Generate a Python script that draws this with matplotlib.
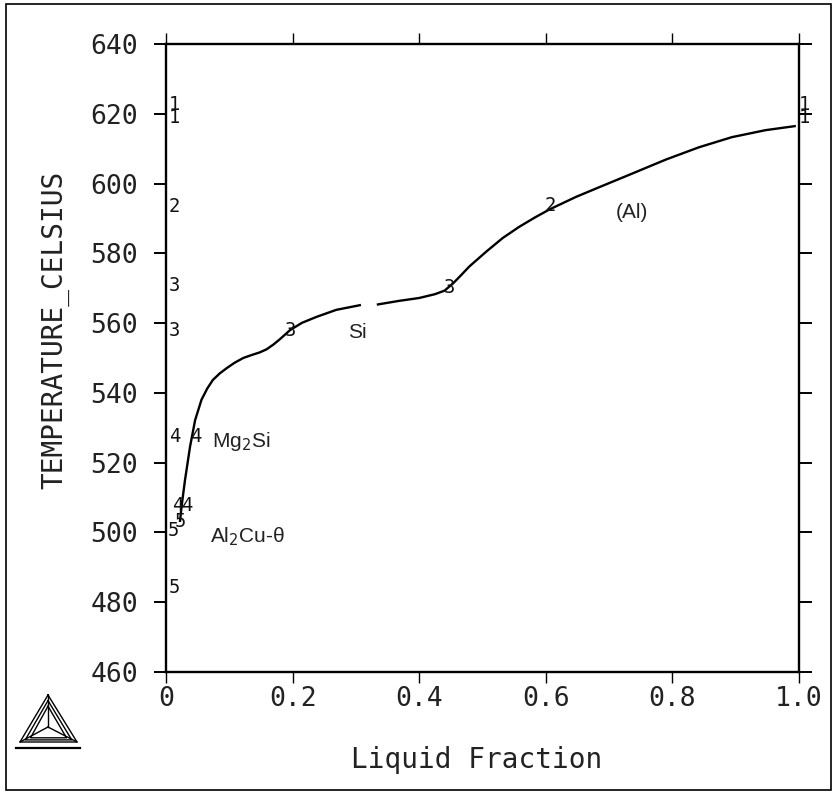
import matplotlib
matplotlib.use("Agg")
import matplotlib.pyplot as plt
from matplotlib.lines import Line2D
from matplotlib.patches import Rectangle

# ---- data ----
curve1_x = [0.022, 0.025, 0.030, 0.038, 0.046, 0.056, 0.065, 0.074, 0.085, 0.096,
            0.108, 0.122, 0.136, 0.148, 0.159, 0.170, 0.180, 0.196, 0.215, 0.238,
            0.269, 0.308]
curve1_y = [503.0, 508.0, 515.0, 524.6, 532.2, 538.0, 541.2, 543.7, 545.6, 547.1,
            548.6, 550.0, 550.9, 551.6, 552.5, 553.9, 555.4, 558.0, 560.1, 561.8,
            563.8, 565.2]
curve2_x = [0.333, 0.369, 0.400, 0.425, 0.440, 0.453, 0.466, 0.479, 0.506, 0.532,
            0.558, 0.583, 0.606, 0.648, 0.685, 0.737, 0.790, 0.842, 0.894, 0.947,
            0.995]
curve2_y = [565.3, 566.4, 567.2, 568.3, 569.3, 571.3, 573.7, 576.2, 580.5, 584.4,
            587.6, 590.3, 592.6, 596.2, 599.0, 602.9, 606.9, 610.4, 613.3, 615.3,
            616.5]

marker_text = ["1", "1", "1", "1", "2", "2", "3", "3", "3", "3",
               "4", "4", "4", "4", "5", "5", "5"]
marker_x = [0.013, 0.013, 1.009, 1.009, 0.013, 0.607, 0.013, 0.013, 0.196, 0.448,
            0.013, 0.047, 0.018, 0.033, 0.012, 0.022, 0.013]
marker_y = [622.6, 619.0, 622.6, 619.0, 593.3, 593.6, 570.9, 558.0, 558.0, 570.3,
            527.4, 527.4, 507.6, 507.6, 500.6, 503.0, 484.1]

phase_text = ["(Al)", "Si", "Mg$_2$Si", "Al$_2$Cu-θ"]
phase_x = [0.736, 0.302, 0.073, 0.069]
phase_y = [591.8, 557.2, 526.2, 498.7]
phase_ha = ["center", "center", "left", "left"]

xticks = [0, 0.2, 0.4, 0.6, 0.8, 1.0]
xticklabels = ["0", "0.2", "0.4", "0.6", "0.8", "1.0"]
yticks = [460, 480, 500, 520, 540, 560, 580, 600, 620, 640]
xlabel = "Liquid Fraction"
ylabel = "TEMPERATURE_CELSIUS"

# ---- figure ----
mono = "DejaVu Sans Mono"
fig = plt.figure(figsize=(8.37, 7.92), dpi=100)
ax = fig.add_axes([166 / 837, 1 - 672 / 792, 633 / 837, 628 / 792])

ax.plot(curve1_x, curve1_y, color="black", lw=1.7, solid_capstyle="butt",
        solid_joinstyle="round")
ax.plot(curve2_x, curve2_y, color="black", lw=1.7, solid_capstyle="butt",
        solid_joinstyle="round")

for t, x, y in zip(marker_text, marker_x, marker_y):
    ax.text(x, y, t, fontfamily=mono, fontsize=13.5, ha="center", va="center",
            color="#111111", clip_on=False)

for t, x, y, ha in zip(phase_text, phase_x, phase_y, phase_ha):
    ax.text(x, y, t, fontfamily="Liberation Sans", fontsize=15, ha=ha, va="center",
            color="#222222")

ax.set_xlim(0, 1.0)
ax.set_ylim(460, 640)
ax.set_xticks(xticks)
ax.set_xticklabels(xticklabels)
ax.set_yticks(yticks)

for s in ax.spines.values():
    s.set_linewidth(1.7)
    s.set_color("black")

ax.tick_params(axis="y", which="both", direction="out", length=9, width=1.4,
               left=True, right=True, labelsize=19, pad=11, colors="black")
ax.tick_params(axis="x", which="both", direction="out", length=8, width=1.0,
               bottom=True, top=True, labelsize=19, pad=2, colors="black")
for lab in ax.get_xticklabels() + ax.get_yticklabels():
    lab.set_fontfamily(mono)
    lab.set_color("#222222")

ax.set_xlabel(xlabel, fontfamily=mono, fontsize=20, color="#222222")
ax.set_ylabel(ylabel, fontfamily=mono, fontsize=20, color="#222222")
ax.xaxis.set_label_coords(0.49, -0.118)
ax.yaxis.set_label_coords(-0.152, 0.545)

# outer frame
fig.patches.append(Rectangle((6 / 837, 2 / 792), 825 / 837, 786 / 792,
                             transform=fig.transFigure, fill=False,
                             edgecolor="black", lw=1.2))

# logo (triangle symbol)
def fx(px):
    return px / 837

def fy(py):
    return 1 - py / 792

apex = (48, 695)
bl = (20, 742)
br = (77, 742)
cen = (48, 727)
for shrink in [0, 3.5, 7]:
    a = (apex[0], apex[1] + shrink * 1.6)
    l = (bl[0] + shrink * 1.5, bl[1] - shrink * 0.6)
    r = (br[0] - shrink * 1.5, br[1] - shrink * 0.6)
    pts = [a, l, r, a]
    fig.add_artist(Line2D([fx(p[0]) for p in pts], [fy(p[1]) for p in pts],
                          transform=fig.transFigure, color="black", lw=1.0))
for v in [apex, bl, br]:
    fig.add_artist(Line2D([fx(cen[0]), fx(v[0])], [fy(cen[1]), fy(v[1])],
                          transform=fig.transFigure, color="black", lw=1.0))
fig.add_artist(Line2D([fx(16), fx(80)], [fy(748), fy(748)],
                      transform=fig.transFigure, color="black", lw=1.6))

fig.savefig("out.png", dpi=100, facecolor="white")
